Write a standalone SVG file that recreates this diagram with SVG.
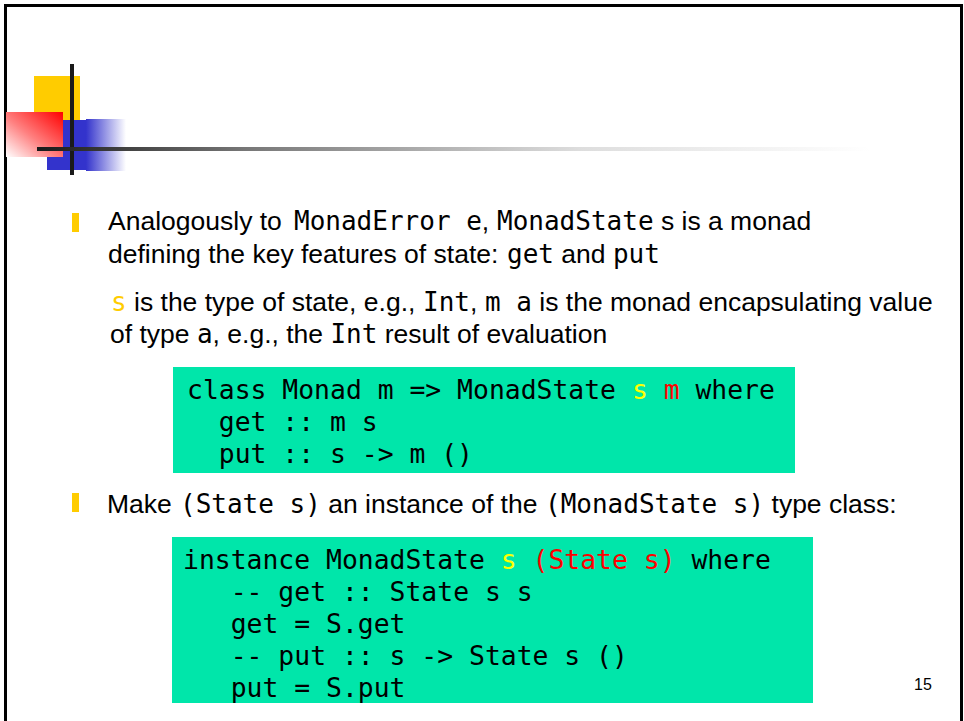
<svg xmlns="http://www.w3.org/2000/svg" width="964" height="721" viewBox="0 0 964 721">
<style>
.body{font-family:"Liberation Sans",Arial,sans-serif;font-size:26.5px;fill:#000;white-space:pre}
.mono{font-family:"DejaVu Sans Mono","Liberation Mono",monospace;font-size:26px}
.code{font-family:"DejaVu Sans Mono","Liberation Mono",monospace;font-size:26.4px;fill:#000;white-space:pre}
.yel{fill:#FFFF00}
.red{fill:#FF0000}
.ys{fill:#FFCC00}
.box{fill:#00E6AA}
.bullet{fill:#FFCC00}
</style>
<defs>
<linearGradient id="gRed" x1="1" y1="0" x2="0" y2="1">
<stop offset="0" stop-color="#FF0000"/>
<stop offset="0.55" stop-color="#FF8080"/>
<stop offset="1" stop-color="#FFFFFF"/>
</linearGradient>
<linearGradient id="gBlue" x1="0" y1="0" x2="1" y2="0">
<stop offset="0" stop-color="#3333CC"/>
<stop offset="1" stop-color="#3333CC" stop-opacity="0"/>
</linearGradient>
<linearGradient id="gLine" x1="0" y1="0" x2="1" y2="0">
<stop offset="0" stop-color="#1a1a1a"/>
<stop offset="0.25" stop-color="#777777"/>
<stop offset="0.65" stop-color="#dddddd"/>
<stop offset="1" stop-color="#ffffff"/>
</linearGradient>
</defs>
<rect x="0" y="0" width="964" height="721" fill="#ffffff"/>
<rect x="5.5" y="5.5" width="956" height="730" fill="none" stroke="#000" stroke-width="3"/>
<g id="decoration">
<rect x="34" y="76" width="46" height="44" fill="#FFCC00"/>
<rect x="47" y="120" width="39" height="50" fill="#3333CC"/>
<rect x="86" y="119" width="40" height="52" fill="url(#gBlue)"/>
<rect x="6" y="112" width="57" height="45" fill="url(#gRed)"/>
<rect x="70" y="64" width="4" height="111" fill="#1a1a1a"/>
<rect x="37" y="147" width="833" height="4" fill="url(#gLine)"/>
</g>
<g id="bullet1">
<rect class="bullet" x="72" y="213" width="7" height="19"/>
<text class="body" x="108" y="230">Analogously to <tspan class="mono" x="294">MonadError e</tspan>, <tspan class="mono" x="497">MonadState</tspan> s is a monad</text>
<text class="body" x="108" y="263">defining the key features of state: <tspan class="mono" x="507">get</tspan> and <tspan class="mono">put</tspan></text>
</g>
<g id="subtext">
<text class="body" x="111" y="311"><tspan class="mono ys">s</tspan> is the type of state, e.g., <tspan class="mono" x="423">Int</tspan>, <tspan class="mono" x="485">m a</tspan> is the monad encapsulating value</text>
<text class="body" x="110" y="343">of type <tspan class="mono">a</tspan>, e.g., the <tspan class="mono">Int</tspan> result of evaluation</text>
</g>
<g id="code1">
<rect class="box" x="173" y="367" width="622" height="106"/>
<text class="code" x="187" y="399">class Monad m =&gt; MonadState <tspan class="yel">s</tspan> <tspan class="red">m</tspan> where</text>
<text class="code" x="218.8" y="431">get :: m s</text>
<text class="code" x="218.8" y="463">put :: s -&gt; m ()</text>
</g>
<g id="bullet2">
<rect class="bullet" x="72" y="493" width="7" height="19"/>
<text class="body" x="107" y="513">Make <tspan class="mono" x="180">(State s)</tspan> an instance of the <tspan class="mono" x="545">(MonadState s)</tspan> type class:</text>
</g>
<g id="code2">
<rect class="box" x="172" y="537" width="641" height="166"/>
<text class="code" x="183" y="569">instance MonadState <tspan class="yel">s</tspan> <tspan class="red">(State s)</tspan> where</text>
<text class="code" x="230.7" y="601">-- get :: State s s</text>
<text class="code" x="230.7" y="633">get = S.get</text>
<text class="code" x="230.7" y="665">-- put :: s -&gt; State s ()</text>
<text class="code" x="230.7" y="697">put = S.put</text>
</g>
<text id="page" x="914" y="690" font-family="Liberation Sans, Arial, sans-serif" font-size="16" fill="#000">15</text>
</svg>
